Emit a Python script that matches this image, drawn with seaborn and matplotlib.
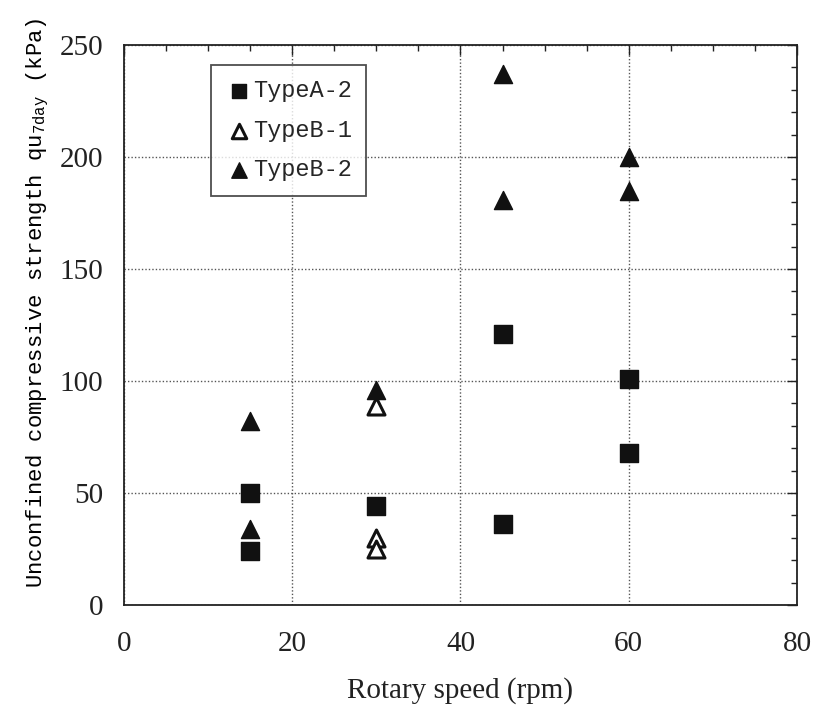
import numpy as np
import pandas as pd
import matplotlib
matplotlib.use("Agg")
import matplotlib.pyplot as plt
import seaborn as sns
from matplotlib.ticker import MultipleLocator

# Data
a2_speed = [15, 15, 30, 45, 45, 60, 60]
a2_qu = [50, 24, 44, 121, 36, 101, 68]
b1_speed = [30, 30, 30]
b1_qu = [89, 30, 25]
b2_speed = [15, 15, 30, 45, 45, 60, 60]
b2_qu = [82, 34, 96, 237, 181, 200, 185]
series_names = ["TypeA-2", "TypeB-1", "TypeB-2"]
x_ticks = [0, 20, 40, 60, 80]
y_ticks = [0, 50, 100, 150, 200, 250]

sns.set_style("white")
plt.rcParams["font.family"] = ["Liberation Serif", "DejaVu Serif"]

fig = plt.figure(figsize=(8.18, 7.15), dpi=100)
ax = fig.add_axes([0.1516, 0.1538, 0.8227, 0.7832])

dfa = pd.DataFrame({"x": a2_speed, "y": a2_qu})
dfb1 = pd.DataFrame({"x": b1_speed, "y": b1_qu})
dfb2 = pd.DataFrame({"x": b2_speed, "y": b2_qu})

sns.scatterplot(data=dfa, x="x", y="y", marker="s", s=150, color="#111111",
                edgecolor="#111111", linewidth=1, ax=ax, label=series_names[0], zorder=3)
sns.scatterplot(data=dfb1, x="x", y="y", marker="^", s=150, facecolor="white",
                edgecolor="#111111", linewidth=2.2, ax=ax, label=series_names[1], zorder=3)
sns.scatterplot(data=dfb2, x="x", y="y", marker="^", s=170, color="#111111",
                edgecolor="#111111", linewidth=1, ax=ax, label=series_names[2], zorder=3)

ax.set_xlim(0, 80)
ax.set_ylim(0, 250)
ax.set_xticks(x_ticks)
ax.set_yticks(y_ticks)
ax.xaxis.set_minor_locator(MultipleLocator(5))
ax.yaxis.set_minor_locator(MultipleLocator(10))
ax.tick_params(which="both", direction="in", top=True, right=True, color="#222222")
ax.tick_params(which="major", length=7, width=1, labelsize=21)
ax.tick_params(axis="x", which="major", pad=19)
ax.tick_params(axis="y", which="major", pad=15)
ax.tick_params(which="minor", length=4, width=1)
ax.grid(True, which="major", linestyle=(0, (1, 1.5)), color="#555555", linewidth=1)
for sp in ax.spines.values():
    sp.set_color("#222222")
    sp.set_linewidth(1.3)
for lab in ax.get_xticklabels() + ax.get_yticklabels():
    lab.set_color("#222222")

ax.set_xlabel("Rotary speed (rpm)", fontsize=21, labelpad=14, color="#222222")
ax.set_ylabel("Unconfined compressive strength qu$_{\\mathregular{7day}}$ (kPa)",
              fontsize=16, family=["Liberation Mono", "DejaVu Sans Mono"],
              color="#000000")
ax.yaxis.set_label_coords(-0.108, 0.54)

leg = ax.legend(loc="upper left", bbox_to_anchor=(0.13, 0.964), frameon=True, fancybox=False,
                edgecolor="#222222", prop={"family": "Liberation Mono", "size": 17},
                handletextpad=0.05, borderpad=0.6, labelspacing=0.7, handlelength=1.1,
                markerscale=0.85, borderaxespad=0)
leg.get_frame().set_linewidth(1.3)

fig.savefig("out.png", dpi=100)
